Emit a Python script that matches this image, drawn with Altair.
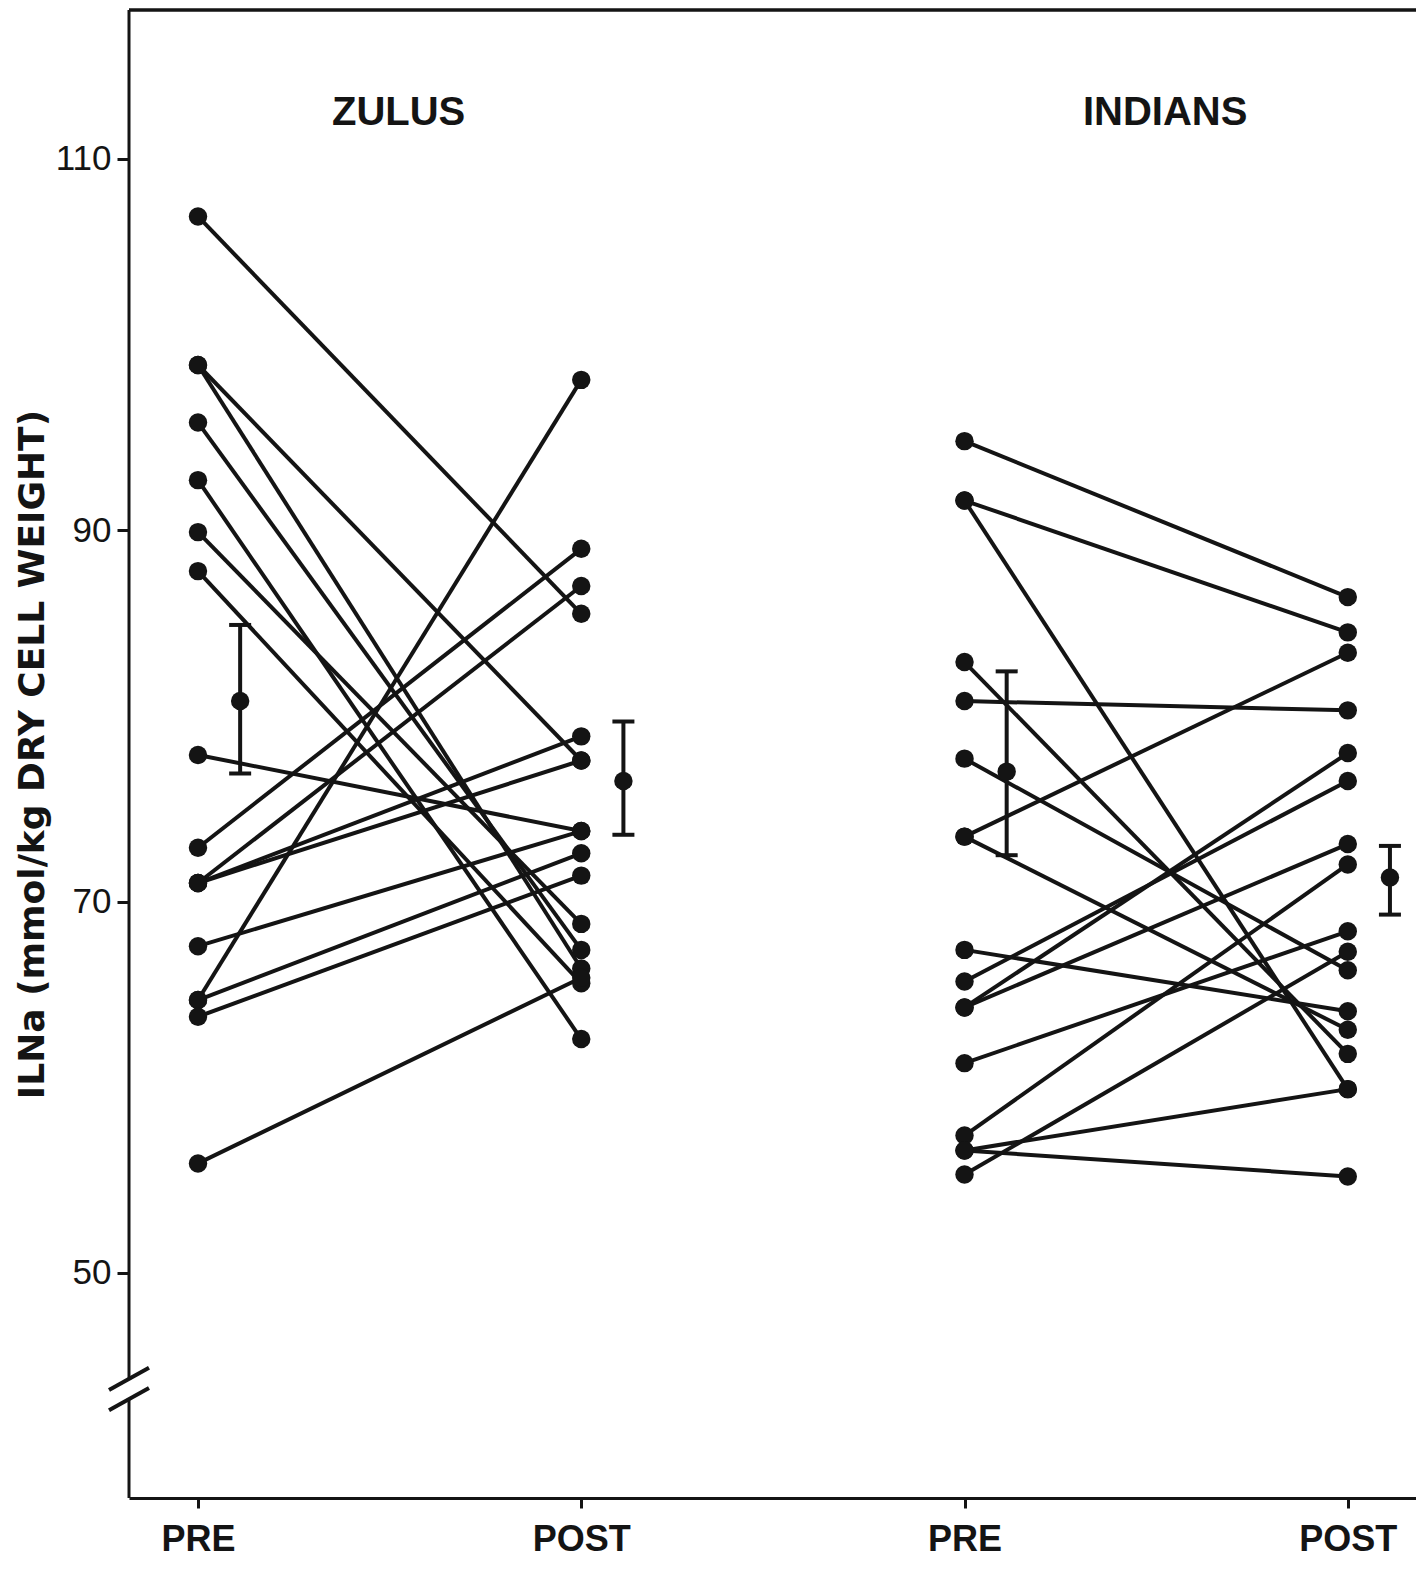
import altair as alt
import pandas as pd

# ---- data (ILNa, mmol/kg dry cell weight) ----
zulu_pre = [106.9, 98.9, 98.9, 95.8, 92.7, 89.9, 87.8, 77.9, 72.9, 71.0, 71.0, 71.0, 67.6, 64.7, 64.7, 63.8, 55.9]
zulu_post = [85.5, 77.6, 66.4, 67.4, 62.6, 68.8, 65.6, 73.8, 89.0, 87.0, 78.9, 77.6, 73.8, 98.1, 72.6, 71.4, 65.9]
indian_pre = [94.8, 91.6, 91.6, 82.9, 80.8, 77.7, 73.5, 73.5, 67.4, 65.7, 64.3, 64.3, 61.3, 57.4, 56.6, 56.6, 55.3]
indian_post = [86.4, 84.5, 59.9, 61.8, 80.3, 66.3, 83.4, 63.1, 64.1, 76.5, 78.0, 73.1, 68.4, 72.0, 59.9, 55.2, 67.3]

group_names = ["ZULUS", "INDIANS"]
stage_labels = ["PRE", "POST", "PRE", "POST"]

mean_values = [80.8, 76.5, 77.0, 71.3]
mean_upper = [84.9, 79.7, 82.4, 73.0]
mean_lower = [76.9, 73.6, 72.5, 69.3]

y_ticks = [50, 70, 90, 110]
axis_break = [43.2, 44.3]

# ---- layout constants ----
W, H = 1287, 1488
Y_DOMAIN = [37.88, 118.02]
X_DOMAIN = [-0.18, 3.178]
MEAN_OFFSET = 0.11
INK = "#141414"
DOT = 340
LW = 4

rows = []
for gi, (g, pre, post) in enumerate([(group_names[0], zulu_pre, zulu_post),
                                     (group_names[1], indian_pre, indian_post)]):
    for i, (a, b) in enumerate(zip(pre, post)):
        rows.append(dict(group=g, sid=f"{g}-{i}", x=2 * gi, value=a))
        rows.append(dict(group=g, sid=f"{g}-{i}", x=2 * gi + 1, value=b))
df = pd.DataFrame(rows)

mdf = pd.DataFrame(dict(x=[i + MEAN_OFFSET for i in range(4)], mean=mean_values,
                        lo=mean_lower, hi=mean_upper))
tdf = pd.DataFrame(dict(name=group_names, x=[0.5, 2.5]))
ydf = pd.DataFrame(dict(y1=[Y_DOMAIN[0], axis_break[1]], y2=[axis_break[0], Y_DOMAIN[1]]))
bdf = pd.DataFrame(dict(b=axis_break))
bdf["y1"] = bdf["b"] - 0.6
bdf["y2"] = bdf["b"] + 0.6

xs = alt.Scale(domain=X_DOMAIN, nice=False, zero=False)
ys = alt.Scale(domain=Y_DOMAIN, nice=False, zero=False)

label_expr = "[" + ",".join(f"'{s}'" for s in stage_labels) + "][datum.value]"

x_enc = alt.X("x:Q", scale=xs, axis=alt.Axis(
    values=[0, 1, 2, 3], labelExpr=label_expr, title=None, grid=False,
    tickSize=10, tickWidth=3, tickColor=INK, domainWidth=3, domainColor=INK,
    labelFont="Liberation Sans", labelFontSize=36, labelFontWeight="bold",
    labelColor=INK, labelPadding=14, labelFlush=False))
y_enc = alt.Y("value:Q", scale=ys, axis=alt.Axis(
    values=y_ticks, title="ILNa (mmol/kg DRY CELL WEIGHT)", grid=False, domain=False,
    tickSize=12, tickWidth=3, tickColor=INK,
    labelFont="Liberation Sans", labelFontSize=35, labelColor=INK, labelPadding=6,
    titleFont="DejaVu Sans", titleFontSize=36, titleFontWeight="bold", titleColor=INK,
    titleAngle=270, titleX=-97, titleY=H / 2, titleBaseline="middle", titleAlign="center"))

lines = alt.Chart(df).mark_line(color=INK, strokeWidth=LW).encode(
    x=x_enc, y=y_enc, detail="sid:N")
points = alt.Chart(df).mark_circle(color=INK, size=DOT, opacity=1).encode(
    x=alt.X("x:Q", scale=xs), y=alt.Y("value:Q", scale=ys))

err = alt.Chart(mdf).mark_rule(color=INK, strokeWidth=LW).encode(
    x=alt.X("x:Q", scale=xs), y=alt.Y("lo:Q", scale=ys), y2="hi:Q")
cap_lo = alt.Chart(mdf).mark_tick(color=INK, orient="horizontal", size=22, thickness=4,
                                  opacity=1).encode(
    x=alt.X("x:Q", scale=xs), y=alt.Y("lo:Q", scale=ys))
cap_hi = alt.Chart(mdf).mark_tick(color=INK, orient="horizontal", size=22, thickness=4,
                                  opacity=1).encode(
    x=alt.X("x:Q", scale=xs), y=alt.Y("hi:Q", scale=ys))
mean_pts = alt.Chart(mdf).mark_circle(color=INK, size=DOT, opacity=1).encode(
    x=alt.X("x:Q", scale=xs), y=alt.Y("mean:Q", scale=ys))

titles = alt.Chart(tdf).mark_text(font="Liberation Sans", fontSize=40, fontWeight="bold",
                                  color=INK, baseline="middle", dx=9).encode(
    x=alt.X("x:Q", scale=xs), y=alt.value(103), text="name:N")

y_line = alt.Chart(ydf).mark_rule(color=INK, strokeWidth=3).encode(
    x=alt.value(0), y=alt.Y("y1:Q", scale=ys), y2="y2:Q")
breaks = alt.Chart(bdf).mark_rule(color=INK, strokeWidth=4).encode(
    x=alt.value(-20), x2=alt.value(20), y=alt.Y("y1:Q", scale=ys), y2="y2:Q")
top_line = alt.Chart(tdf).mark_rule(color=INK, strokeWidth=3).encode(
    x=alt.value(0), x2=alt.value(W), y=alt.value(0))

chart = alt.layer(lines, points, err, cap_lo, cap_hi, mean_pts, titles,
                  y_line, breaks, top_line).properties(
    width=W, height=H,
    autosize=alt.AutoSizeParams(type="none"),
    padding={"left": 121, "top": 2, "right": 0, "bottom": 70},
    background="white",
).configure_view(stroke=None)

chart.save("out.html", embed_options={"renderer": "svg", "actions": False})
